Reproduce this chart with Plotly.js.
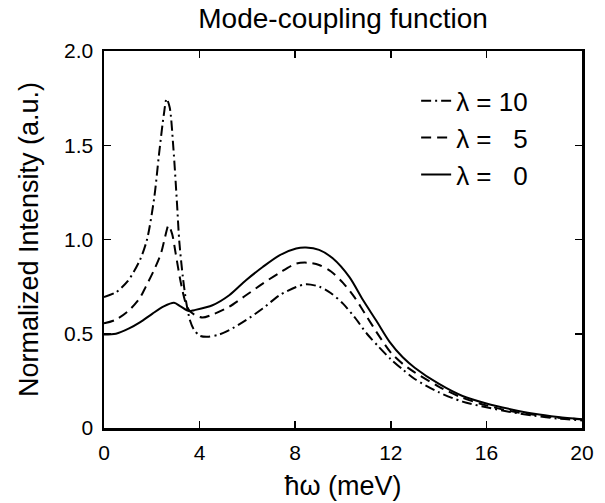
<!DOCTYPE html>
<html><head><meta charset="utf-8">
<script src="https://cdn.plot.ly/plotly-3.0.1.min.js"></script>
<style>body{margin:0;padding:0;background:#fff}#chart{width:605px;height:503px}</style>
</head><body><div id="chart"></div>
<script>
// λ = 10 (dash-dot)
const x10 = [0,0.5,1.0,1.5,1.8,2.1,2.3,2.5,2.62,2.75,2.9,3.05,3.15,3.3,3.45,3.6,3.75,4.0,4.33,4.8,5.24,5.94,6.64,7.34,8.04,8.46,9.0,9.5,10.0,10.5,11.0,11.5,12.0,12.5,13.0,14.0,15.0,16.0,17.0,18.0,19.0,20.0];
const y10 = [0.695,0.72,0.78,0.89,1.00,1.22,1.45,1.66,1.746,1.70,1.49,1.20,0.99,0.80,0.66,0.57,0.525,0.49,0.484,0.495,0.519,0.572,0.634,0.704,0.748,0.763,0.75,0.715,0.66,0.585,0.50,0.43,0.365,0.31,0.26,0.19,0.14,0.11,0.085,0.065,0.05,0.04];
// λ = 5 (dashed)
const x5 = [0,0.5,1.05,1.5,1.75,2.1,2.38,2.55,2.7,2.85,3.0,3.2,3.4,3.56,3.8,4.12,4.6,5.24,5.94,6.64,7.34,8.04,8.52,9.0,9.5,10.0,10.5,11.0,11.5,12.0,12.5,13.0,14.0,15.0,16.0,17.0,18.0,19.0,20.0];
const y5 = [0.555,0.575,0.625,0.69,0.75,0.84,0.925,1.01,1.075,1.03,0.925,0.78,0.67,0.625,0.60,0.586,0.605,0.643,0.704,0.766,0.823,0.872,0.877,0.865,0.83,0.77,0.69,0.59,0.49,0.40,0.34,0.295,0.22,0.16,0.12,0.09,0.07,0.055,0.045];
// λ = 0 (solid)
const x0 = [0,0.5,1.05,1.5,2.03,2.5,2.93,3.2,3.56,3.77,4.54,5.24,5.94,6.64,7.34,8.04,8.45,9.0,9.57,10.27,10.83,11.39,11.95,12.5,13.0,14.0,15.0,16.0,17.0,18.0,19.0,20.0];
const y0 = [0.496,0.50,0.528,0.56,0.607,0.645,0.664,0.645,0.62,0.625,0.651,0.704,0.784,0.854,0.916,0.952,0.957,0.945,0.90,0.80,0.68,0.57,0.457,0.375,0.32,0.235,0.17,0.13,0.10,0.075,0.058,0.046];

const names = ['λ = 10', 'λ = \u00a0\u00a05', 'λ = \u00a0\u00a00'];
const xTicks = [0,4,8,12,16,20];
const yTicks = [0,0.5,1.0,1.5,2.0];
const yTickText = ['0','0.5','1.0','1.5','2.0'];

const font = 'Liberation Sans, Arial, Helvetica, sans-serif';
const traces = [
  {x:x10, y:y10, name:names[0], mode:'lines', line:{color:'#000', width:2, dash:'10px,4px,2px,4px', shape:'spline', smoothing:0.8}},
  {x:x5, y:y5, name:names[1], mode:'lines', line:{color:'#000', width:2, dash:'10px,6px', shape:'spline', smoothing:0.8}},
  {x:x0, y:y0, name:names[2], mode:'lines', line:{color:'#000', width:2, shape:'spline', smoothing:0.8}}
];
const axisCommon = {showgrid:false, zeroline:false, showline:true, linecolor:'#000', linewidth:2.5, mirror:'ticks', ticks:'inside', ticklen:7, tickwidth:1.5, tickcolor:'#000', tickfont:{family:font, size:21, color:'#000'}};
const layout = {
  width:605, height:503,
  margin:{l:104, r:23, t:51, b:75},
  paper_bgcolor:'#fff', plot_bgcolor:'#fff',
  title:{text:'Mode-coupling function', font:{family:font, size:28, color:'#000'}, x:0.567, xanchor:'center', y:0.984, yanchor:'top'},
  xaxis:Object.assign({}, axisCommon, {range:[0,20], tickvals:xTicks, ticktext:xTicks.map(String), ticklabelstandoff:4, title:{text:'ħω (meV)', font:{family:font, size:27, color:'#000'}, standoff:14}}),
  yaxis:Object.assign({}, axisCommon, {range:[0,2], tickvals:yTicks, ticktext:yTickText, ticklabelstandoff:4, title:{text:'Normalized Intensity (a.u.)', font:{family:font, size:27, color:'#000'}, standoff:18}}),
  showlegend:true,
  legend:{x:0.653, y:0.93, xanchor:'left', yanchor:'top', bgcolor:'rgba(0,0,0,0)', font:{family:font, size:26, color:'#000'}, tracegroupgap:0}
};
Plotly.newPlot('chart', traces, layout, {displayModeBar:false, staticPlot:true});
</script></body></html>
